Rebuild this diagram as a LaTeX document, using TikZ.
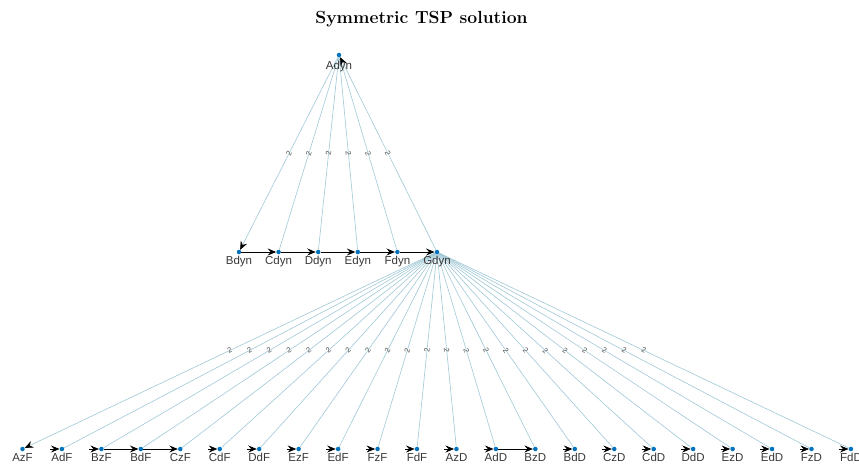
\documentclass[tikz,border=0pt]{standalone}
\usepackage{fontspec}
\newfontfamily\lab{Liberation Sans}
\usetikzlibrary{arrows.meta,backgrounds}
\definecolor{edgec}{RGB}{160,200,214}
\definecolor{dotc}{RGB}{0,114,189}
\definecolor{labc}{RGB}{55,55,55}
\definecolor{wc}{RGB}{80,80,80}
\begin{document}
\begin{tikzpicture}[x=1pt,y=-1pt,
  vert/.style={circle,fill=dotc,inner sep=0pt,minimum size=4.5pt},
  vlab/.style={anchor=north,inner sep=0pt,font=\lab\fontsize{11.5}{12}\selectfont,text=labc},
  edge/.style={draw=edgec,line width=0.6pt},
  hot/.style={draw=black,line width=1pt},
  tip/.style={-{Stealth[length=8.5pt,width=7pt,inset=3pt,color=black]}},
  stub/.style={draw=black,line width=0.6pt,tip},
  w/.style={midway,sloped,inner sep=0.5pt,font=\lab\fontsize{7.5}{8}\selectfont,text=wc}
]
\useasboundingbox (0,0) rectangle (859,468);
\node[font=\fontsize{17.5}{20}\selectfont\bfseries] (title) at (421.5,19) {Symmetric TSP solution};

% top
\node[vert] (Adyn) at (339,55) {};
\node[vlab] (Adyn-l) at (339,60.5) {Adyn};

% middle row
\foreach \n [count=\i from 0] in {Bdyn,Cdyn,Ddyn,Edyn,Fdyn,Gdyn} {
  \pgfmathsetmacro\xx{239+39.6*\i}
  \node[vert] (\n) at (\xx,252) {};
  \node[vlab] (\n-l) at (\xx,256) {\n};
}

% bottom row
\foreach \n [count=\i from 0] in {AzF,AdF,BzF,BdF,CzF,CdF,DdF,EzF,EdF,FzF,FdF,AzD,AdD,BzD,BdD,CzD,CdD,DdD,EzD,EdD,FzD,FdD} {
  \pgfmathsetmacro\xx{22.5+39.45*\i}
  \node[vert] (\n) at (\xx,449) {};
  \node[vlab] (\n-l) at (\xx,453) {\n};
  \coordinate (s-\n) at ({\xx-12},449);
}

\begin{scope}[on background layer]
  \draw[edge,tip] (Adyn) -- node[w]{2} (Bdyn);
  \foreach \n in {Cdyn,Ddyn,Edyn,Fdyn}
    \draw[edge] (Adyn) -- node[w]{2} (\n);
  \draw[edge,tip] (Gdyn) -- node[w]{2} (Adyn);

  \draw[edge,tip] (Gdyn) -- node[w]{2} (AzF);
  \foreach \n in {AdF,BzF,BdF,CzF,CdF,DdF,EzF,EdF,FzF,FdF,AzD,AdD,BzD,BdD,CzD,CdD,DdD,EzD,EdD,FzD,FdD}
    \draw[edge] (Gdyn) -- node[w]{2} (\n);

  \draw[hot,tip] (Bdyn) -- (Cdyn);
  \draw[hot,tip] (Cdyn) -- (Ddyn);
  \draw[hot,tip] (Ddyn) -- (Edyn);
  \draw[hot,tip] (Edyn) -- (Fdyn);
  \draw[hot,tip] (Fdyn) -- (Gdyn);

  \draw[hot,tip] (BzF) -- (BdF);
  \draw[hot,tip] (BdF) -- (CzF);
  \draw[hot,tip] (AdD) -- (BzD);

  \foreach \n in {AdF,BzF,CdF,DdF,EzF,EdF,FzF,FdF,AzD,AdD,BdD,CzD,CdD,DdD,EzD,EdD,FzD,FdD}
    \draw[stub] (s-\n) -- (\n);
\end{scope}
\end{tikzpicture}
\end{document}
